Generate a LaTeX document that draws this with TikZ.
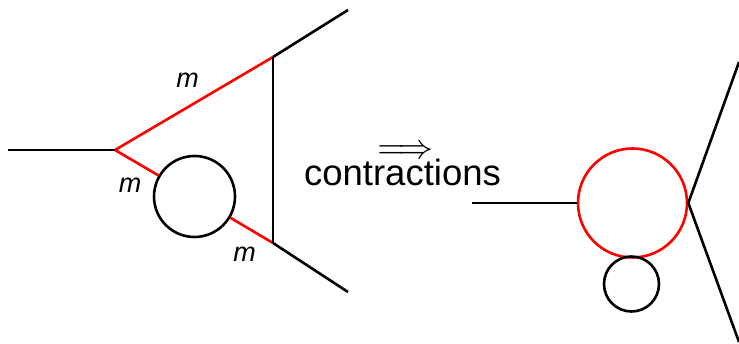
\documentclass[tikz,border=0pt]{standalone}
\usepackage{fontspec}
\setmainfont{Liberation Sans}
\usetikzlibrary{positioning}
\tikzset{
  % Base style
  diagram base/.style={x=1pt, y=-1pt, line width=2.6pt},
  % Lines
  prop line/.style={draw=black},
  mass line/.style={draw=red},
  % Loops
  loop circle/.style={circle, draw, inner sep=0pt},
  % Labels
  mass label/.style={font=\fontsize{27}{30}\selectfont\itshape, inner sep=0pt, anchor=base},
}

\begin{document}
\begin{tikzpicture}[diagram base]
  \useasboundingbox (0,0) rectangle (739,344);
  % left diagram
  \coordinate (Lin) at (8,150);
  \coordinate (A) at (115,150);
  \coordinate (B) at (273,57);
  \coordinate (C) at (273,243);
  \coordinate (Bout) at (348,10);
  \coordinate (Cout) at (348,292);
  \node[loop circle, minimum size=81pt] (L) at (194.5,196.5) {};
  \draw[prop line] (Lin) -- (A);
  \draw[mass line] (A) -- (B);
  \draw[mass line] (A) -- (L);
  \draw[mass line] (L) -- (C);
  \draw[prop line] (B) -- (C);
  \draw[prop line] (B) -- (Bout);
  \draw[prop line] (C) -- (Cout);
  \node[mass label] (m1) at (187.5,88) {m};
  \node[mass label] (m2) at (130,193) {m};
  \node[mass label] (m3) at (244.5,262) {m};
  % middle
  \node[font=\fontsize{36.5}{40}\selectfont, inner sep=0pt, anchor=base] (txt) at (402.5,185.5) {contractions};
  \node[inner sep=0pt, scale=3.5] (arr) at (405.5,152) {$\Longrightarrow$};
  % right diagram
  \coordinate (Rin) at (472,203);
  \node[loop circle, draw=red, minimum size=109pt] (R) at (632.5,203) {};
  \node[loop circle, minimum size=55pt] (S) at (631.5,284) {};
  \coordinate (Rtop) at (739,62);
  \coordinate (Rbot) at (739,342);
  \draw[prop line] (Rin) -- (R.west);
  \draw[prop line] (R.east) -- (Rtop);
  \draw[prop line] (R.east) -- (Rbot);
\end{tikzpicture}
\end{document}
